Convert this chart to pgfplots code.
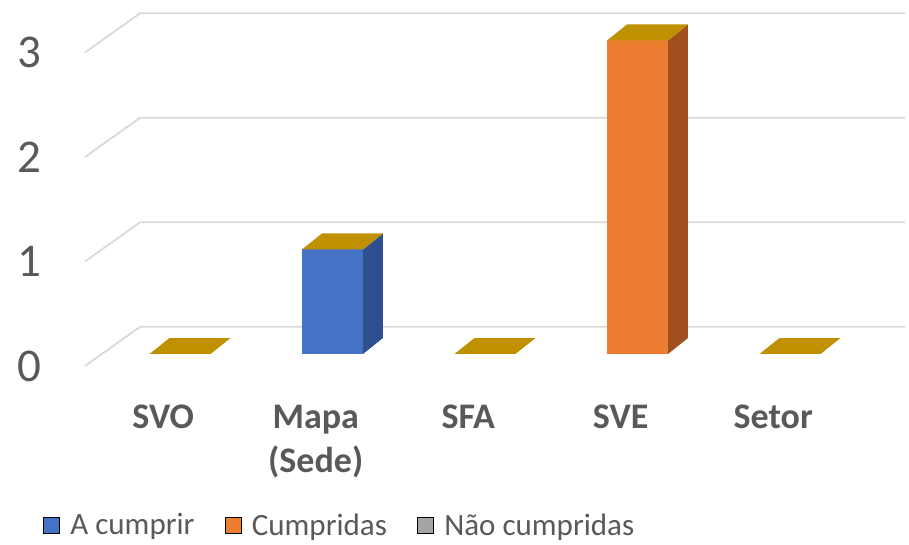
\documentclass[border=0pt]{standalone}
\usepackage{pgfplots}
\pgfplotsset{compat=1.18}
\usepackage{fontspec}
\setmainfont{Carlito}
\definecolor{gridc}{HTML}{D9D9D9}
\definecolor{txt}{HTML}{595959}
\definecolor{blueF}{HTML}{4472C4}
\definecolor{blueS}{HTML}{2F5090}
\definecolor{orF}{HTML}{ED7D31}
\definecolor{orS}{HTML}{A0501C}
\definecolor{topc}{HTML}{BF9000}
\definecolor{greyc}{HTML}{A5A5A5}
\begin{document}
\begin{tikzpicture}
\path[use as bounding box] (0pt,0pt) rectangle (909pt,545pt);
\begin{axis}[
  at={(65.6pt,170.1pt)}, anchor=south west,
  scale only axis, width=840.3pt, height=370.975pt,
  xmin=-0.75, xmax=4.76, ymin=-0.2, ymax=3.35,
  clip=false,
  axis line style={draw=none}, tick style={draw=none},
  /pgf/number format/assume math mode=true,
  ytick={-0.115,0.885,1.885,2.885}, yticklabels={0,1,2,3},
  yticklabel style={font=\fontsize{47}{47}\selectfont, text=txt, inner sep=0pt, anchor=east, xshift=-23.6pt},
  xtick={-0.11,0.89,1.89,2.89,3.89},
  xticklabels={SVO,{Mapa\\(Sede)},SFA,SVE,Setor},
  xticklabel style={font=\bfseries\fontsize{36}{44}\selectfont, text=txt, align=center, anchor=north, inner sep=0pt, yshift=-30pt},
  legend columns=3,
  legend style={at={(-0.0269,-0.4046)}, anchor=west, draw=none, fill=none, inner sep=0pt, outer sep=0pt,
    font=\fontsize{31}{31}\selectfont, text=txt,
    /tikz/every odd column/.append style={column sep=9pt},
    /tikz/every even column/.append style={column sep=28pt}},
  legend cell align=left,
  legend image code/.code={\fill[#1] (0pt,-8pt) rectangle (16pt,8pt);},
]
% gridlines (3D wall)
\addplot[gridc, line width=1.8pt, forget plot] coordinates {(-0.623,-0.115) (-0.262,0.26) (4.754,0.26)};
\addplot[gridc, line width=1.8pt, forget plot] coordinates {(-0.623,0.885) (-0.262,1.26) (4.754,1.26)};
\addplot[gridc, line width=1.8pt, forget plot] coordinates {(-0.623,1.885) (-0.262,2.26) (4.754,2.26)};
\addplot[gridc, line width=1.8pt, forget plot] coordinates {(-0.623,2.885) (-0.262,3.26) (4.754,3.26)};
% SVO = 0
\addplot[fill=topc, draw=none, forget plot] coordinates {(-0.2,0) (0.2,0) (0.331,0.153) (-0.069,0.153)} -- cycle;
% Mapa (Sede) = 1 (A cumprir)
\addplot[fill=blueF, draw=none, forget plot] coordinates {(0.8,0) (1.2,0) (1.2,1) (0.8,1)} -- cycle;
\addplot[fill=blueS, draw=none, forget plot] coordinates {(1.2,0) (1.331,0.153) (1.331,1.153) (1.2,1)} -- cycle;
\addplot[fill=topc, draw=none, forget plot] coordinates {(0.8,1) (1.2,1) (1.331,1.153) (0.931,1.153)} -- cycle;
% SFA = 0
\addplot[fill=topc, draw=none, forget plot] coordinates {(1.8,0) (2.2,0) (2.331,0.153) (1.931,0.153)} -- cycle;
% SVE = 3 (Cumpridas)
\addplot[fill=orF, draw=none, forget plot] coordinates {(2.8,0) (3.2,0) (3.2,3) (2.8,3)} -- cycle;
\addplot[fill=orS, draw=none, forget plot] coordinates {(3.2,0) (3.331,0.153) (3.331,3.153) (3.2,3)} -- cycle;
\addplot[fill=topc, draw=none, forget plot] coordinates {(2.8,3) (3.2,3) (3.331,3.153) (2.931,3.153)} -- cycle;
% Setor = 0
\addplot[fill=topc, draw=none, forget plot] coordinates {(3.8,0) (4.2,0) (4.331,0.153) (3.931,0.153)} -- cycle;
\addlegendimage{fill=blueF}
\addlegendentry{A cumprir}
\addlegendimage{fill=orF}
\addlegendentry{Cumpridas}
\addlegendimage{fill=greyc}
\addlegendentry{Não cumpridas}
\end{axis}
\end{tikzpicture}
\end{document}
